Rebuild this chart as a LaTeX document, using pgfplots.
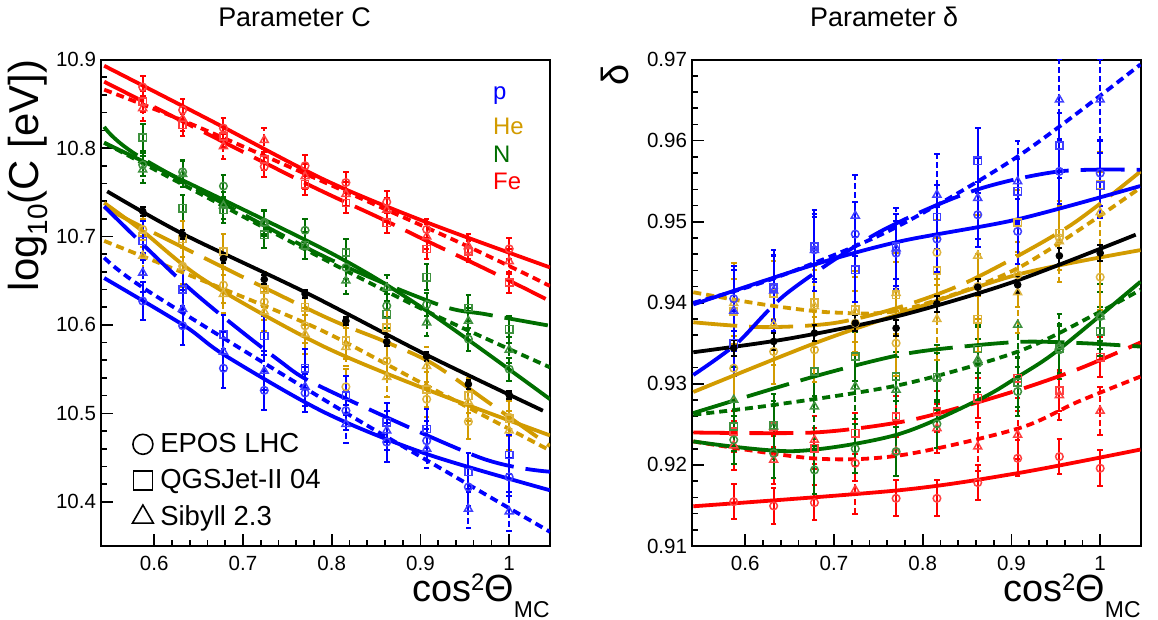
\documentclass[border=0pt]{standalone}
\usepackage{fontspec}
\setmainfont{Liberation Sans}
\usepackage{pgfplots}
\pgfplotsset{compat=1.18}
\definecolor{cp}{RGB}{0,0,255}
\definecolor{che}{RGB}{210,155,0}
\definecolor{cn}{RGB}{0,110,0}
\definecolor{cfe}{RGB}{255,0,0}
\pgfplotsset{
  base/.style={scale only axis, width=224.5bp, height=243.2bp,
    xmin=0.54, xmax=1.046, xtick={0.6,0.7,0.8,0.9,1.0},
    minor x tick num=4, minor y tick num=4, tick align=inside, tick pos=left,
    major tick length=6bp, minor tick length=3bp,
    axis line style={line width=0.9bp},
    every tick/.style={line width=0.8bp, black},
    tick label style={font=\fontsize{10.3}{12}\selectfont},
    /pgf/number format/assume math mode=true,
    x tick label style={yshift=-1.5bp, /pgf/number format/.cd, fixed, precision=1},
    y tick label style={xshift=1bp},
    xlabel={\fontsize{19}{21}\selectfont cos\raisebox{5.5bp}{\fontsize{12}{14}\selectfont 2}Θ\raisebox{-8bp}{\fontsize{11.5}{13}\selectfont MC}},
    xlabel style={at={(axis description cs:1,0)}, anchor=base east, yshift=-27.8bp, inner sep=0pt},
    clip=true},
  errs/.style={error bars/y dir=both, error bars/y explicit,
    error bars/error bar style={line width=1bp, solid},
    error bars/error mark options={rotate=90, mark size=1.4bp, line width=1bp, solid}},
  epos/.style={only marks, mark=o, mark size=1.9bp, color=#1, mark options={solid, line width=0.75bp, draw=#1!75!white}, errs},
  qgs/.style={only marks, mark=square, mark size=1.8bp, color=#1, mark options={solid, line width=0.75bp, draw=#1!75!white}, errs},
  sib/.style={only marks, mark=triangle, mark size=2.3bp, color=#1, mark options={solid, line width=0.75bp, draw=#1!75!white}, errs},
  dat/.style={only marks, mark=*, mark size=1.7bp, color=black, errs},
  fitE/.style={no marks, smooth, line width=1.9bp, color=#1},
  fitQ/.style={no marks, smooth, line width=1.9bp, color=#1, dash pattern=on 22bp off 6bp},
  fitS/.style={no marks, smooth, line width=1.9bp, color=#1, dash pattern=on 4bp off 2.5bp},
  sibbar/.style={error bars/error bar style={line width=1bp, dash pattern=on 3bp off 1.5bp}},
}
\begin{document}
\begin{tikzpicture}
% ---------------- LEFT PANEL ----------------
\begin{axis}[base, at={(50.5bp,37bp)}, anchor=south west,
  ymin=10.35, ymax=10.9, ytick={10.4,10.5,10.6,10.7,10.8,10.9},
  y tick label style={/pgf/number format/.cd, fixed, precision=1},
  ylabel={\fontsize{21}{24}\selectfont log\raisebox{-4.5bp}{\fontsize{14}{16}\selectfont 10}(C [eV])},
  ylabel style={at={(axis description cs:-0.118,1)}, anchor=south east, inner sep=0pt},
  title={Parameter C},
  every axis title/.style={at={(axis description cs:0.431,1.069)}, anchor=base, font=\fontsize{13.5}{15}\selectfont, inner sep=0pt},
  legend style={at={(axis description cs:0.056,0.245)}, anchor=north west, draw=none, fill=none,
    font=\fontsize{13.8}{15}\selectfont, row sep=5bp, column sep=2.5bp, nodes={inner sep=1bp}},
  legend cell align=left]
\addlegendimage{only marks, mark=o, mark size=5bp, black, line width=0.8bp}
\addlegendentry{EPOS LHC}
\addlegendimage{only marks, mark=square, mark size=4.7bp, black, line width=0.8bp}
\addlegendentry{QGSJet-II 04}
\addlegendimage{only marks, mark=triangle, mark size=6bp, black, line width=0.8bp}
\addlegendentry{Sibyll 2.3}
% data: Fe
\addplot[epos=cfe] table[x=x,y=y,y error=e] {
x y e
0.587 10.869 0.012
0.632 10.843 0.012
0.678 10.8225 0.012
0.724 10.779 0.012
0.770 10.780 0.012
0.816 10.761 0.012
0.862 10.739 0.012
0.907 10.708 0.012
0.954 10.685 0.012
1.000 10.686 0.012
};
\addplot[qgs=cfe] table[x=x,y=y,y error=e] {
x y e
0.587 10.8525 0.012
0.632 10.826 0.012
0.678 10.813 0.012
0.724 10.787 0.012
0.770 10.759 0.012
0.816 10.738 0.012
0.862 10.7155 0.012
0.907 10.686 0.012
0.954 10.683 0.012
1.000 10.648 0.012
};
\addplot[sib=cfe, sibbar] table[x=x,y=y,y error=e] {
x y e
0.587 10.845 0.014
0.632 10.833 0.014
0.678 10.802 0.014
0.724 10.809 0.014
0.770 10.768 0.014
0.816 10.748 0.014
0.862 10.730 0.014
0.907 10.700 0.014
0.954 10.689 0.014
1.000 10.672 0.014
};
% data: N
\addplot[epos=cn] table[x=x,y=y,y error=e] {
x y e
0.587 10.781 0.013
0.632 10.773 0.013
0.678 10.757 0.013
0.724 10.716 0.013
0.770 10.707 0.013
0.816 10.665 0.013
0.862 10.6215 0.013
0.907 10.623 0.013
0.954 10.584 0.013
1.000 10.550 0.013
};
\addplot[qgs=cn] table[x=x,y=y,y error=e] {
x y e
0.587 10.812 0.015
0.632 10.732 0.015
0.678 10.730 0.015
0.724 10.702 0.015
0.770 10.690 0.015
0.816 10.682 0.015
0.862 10.612 0.015
0.907 10.654 0.015
0.954 10.619 0.015
1.000 10.595 0.015
};
\addplot[sib=cn, sibbar] table[x=x,y=y,y error=e] {
x y e
0.587 10.7756 0.015
0.632 10.7705 0.015
0.678 10.735 0.015
0.724 10.715 0.015
0.770 10.689 0.015
0.816 10.650 0.015
0.862 10.642 0.015
0.907 10.6027 0.015
0.954 10.6045 0.015
1.000 10.5718 0.015
};
% data: He
\addplot[epos=che] table[x=x,y=y,y error=e] {
x y e
0.587 10.708 0.02
0.632 10.6665 0.02
0.678 10.645 0.02
0.724 10.626 0.02
0.770 10.599 0.02
0.816 10.530 0.02
0.862 10.5594 0.02
0.907 10.516 0.02
0.954 10.4906 0.02
1.000 10.4956 0.02
};
\addplot[qgs=che] table[x=x,y=y,y error=e] {
x y e
0.587 10.700 0.02
0.632 10.697 0.02
0.678 10.683 0.02
0.724 10.640 0.02
0.770 10.620 0.02
0.816 10.582 0.02
0.862 10.597 0.02
0.907 10.527 0.02
0.954 10.520 0.02
1.000 10.494 0.02
};
\addplot[sib=che, sibbar] table[x=x,y=y,y error=e] {
x y e
0.587 10.678 0.022
0.632 10.665 0.022
0.678 10.635 0.022
0.724 10.615 0.022
0.770 10.5895 0.022
0.816 10.575 0.022
0.862 10.541 0.022
0.907 10.5534 0.022
0.954 10.513 0.022
1.000 10.4805 0.022
};
% data: p
\addplot[epos=cp] table[x=x,y=y,y error=e] {
x y e
0.587 10.627 0.022
0.632 10.599 0.022
0.678 10.551 0.022
0.724 10.526 0.022
0.770 10.523 0.022
0.816 10.503 0.022
0.862 10.4675 0.022
0.907 10.469 0.022
0.954 10.4167 0.022
1.000 10.428 0.022
};
\addplot[qgs=cp] table[x=x,y=y,y error=e] {
x y e
0.587 10.695 0.022
0.632 10.640 0.022
0.678 10.5895 0.022
0.724 10.5876 0.022
0.770 10.551 0.022
0.816 10.520 0.022
0.862 10.490 0.022
0.907 10.4824 0.022
0.954 10.4336 0.022
1.000 10.453 0.022
};
\addplot[sib=cp, sibbar] table[x=x,y=y,y error=e] {
x y e
0.587 10.659 0.022
0.632 10.618 0.022
0.678 10.5696 0.022
0.724 10.548 0.022
0.770 10.530 0.022
0.816 10.488 0.022
0.862 10.4805 0.022
0.907 10.460 0.022
0.954 10.392 0.022
1.000 10.389 0.022
};
% fits
\addplot[fitE=cfe] coordinates {(0.5436,10.893) (0.66,10.833) (0.792,10.764) (0.907,10.716) (1.046,10.665)};
\addplot[fitQ=cfe] coordinates {(0.5436,10.875) (0.65,10.821) (0.777,10.757) (0.854,10.721) (0.903,10.697) (0.978,10.661) (1.046,10.627)};
\addplot[fitS=cfe] coordinates {(0.5436,10.866) (0.656,10.821) (0.929,10.700) (1.046,10.644)};
\addplot[fitE=cn] coordinates {(0.5436,10.806) (0.792,10.685) (0.907,10.616) (1.046,10.516)};
\addplot[fitQ=cn] coordinates {(0.5436,10.824) (0.587,10.788) (0.786,10.680) (0.92,10.623) (0.974,10.612) (1.046,10.599)};
\addplot[fitS=cn] coordinates {(0.5436,10.806) (0.786,10.677) (0.91,10.614) (1.046,10.552)};
\addplot[fitE=che] coordinates {(0.5436,10.738) (0.587,10.706) (0.656,10.651) (0.786,10.578) (0.907,10.527) (1.046,10.475)};
\addplot[fitQ=che] coordinates {(0.5436,10.733) (0.6076,10.700) (0.786,10.612) (0.858,10.582) (0.914,10.556) (0.98,10.51) (1.046,10.463)};
\addplot[fitS=che] coordinates {(0.5436,10.695) (0.65,10.652) (0.786,10.595) (0.9,10.535) (1.046,10.458)};
\addplot[fitE=cp] coordinates {(0.5436,10.653) (0.634,10.599) (0.679,10.566) (0.792,10.501) (0.907,10.454) (1.046,10.413)};
\addplot[fitQ=cp] coordinates {(0.5436,10.734) (0.641,10.640) (0.739,10.561) (0.79,10.529) (0.967,10.45) (1.046,10.434)};
\addplot[fitS=cp] coordinates {(0.5436,10.676) (0.592,10.639) (0.792,10.515) (0.907,10.447) (1.046,10.366)};
% data
\addplot[dat] table[x=x,y=y,y error=e] {
x y e
0.587 10.7285 0.005
0.632 10.702 0.005
0.678 10.675 0.005
0.724 10.6515 0.005
0.770 10.635 0.005
0.816 10.6045 0.005
0.862 10.581 0.005
0.907 10.5644 0.005
0.954 10.533 0.005
1.000 10.5208 0.005
};
\addplot[fitE=black] coordinates {(0.547,10.751) (0.632,10.703) (0.77,10.637) (0.907,10.566) (1.038,10.503)};
\node[anchor=base west, text=cp, font=\fontsize{12}{14}\selectfont, inner sep=0pt] at (axis cs:0.9815,10.8544) {p};
\node[anchor=base west, text=che, font=\fontsize{12}{14}\selectfont, inner sep=0pt] at (axis cs:0.9815,10.815) {He};
\node[anchor=base west, text=cn, font=\fontsize{12}{14}\selectfont, inner sep=0pt] at (axis cs:0.9815,10.7834) {N};
\node[anchor=base west, text=cfe, font=\fontsize{12}{14}\selectfont, inner sep=0pt] at (axis cs:0.9815,10.7534) {Fe};
\end{axis}
% ---------------- RIGHT PANEL ----------------
\begin{axis}[base, at={(346bp,37bp)}, anchor=south west,
  ymin=0.91, ymax=0.97, ytick={0.91,0.92,0.93,0.94,0.95,0.96,0.97},
  y tick label style={/pgf/number format/.cd, fixed, fixed zerofill, precision=2},
  ylabel={\fontsize{19}{21}\selectfont δ},
  ylabel style={at={(axis description cs:-0.139,0.99)}, anchor=south east, inner sep=0pt},
  title={Parameter δ},
  every axis title/.style={at={(axis description cs:0.428,1.069)}, anchor=base, font=\fontsize{13.5}{15}\selectfont, inner sep=0pt}]
% Fe
\addplot[epos=cfe] table[x=x,y=y,y error=e] {
x y e
0.587 0.91547 0.0022
0.632 0.91494 0.0022
0.678 0.91535 0.0022
0.724 0.92021 0.0022
0.770 0.91588 0.0022
0.816 0.91588 0.0022
0.862 0.91782 0.0022
0.907 0.92082 0.0022
0.954 0.92103 0.0022
1.000 0.91959 0.0022
};
\addplot[qgs=cfe] table[x=x,y=y,y error=e] {
x y e
0.587 0.92412 0.0025
0.632 0.92473 0.0025
0.678 0.92206 0.0025
0.724 0.92391 0.0025
0.770 0.92597 0.0025
0.816 0.92658 0.0025
0.862 0.92823 0.0025
0.907 0.93070 0.0025
0.954 0.92918 0.0025
1.000 0.93329 0.0025
};
\addplot[sib=cfe, sibbar] table[x=x,y=y,y error=e] {
x y e
0.587 0.9224 0.003
0.632 0.92062 0.003
0.678 0.92309 0.003
0.724 0.91691 0.003
0.770 0.92165 0.003
0.816 0.92453 0.003
0.862 0.92226 0.003
0.907 0.92371 0.003
0.954 0.92860 0.003
1.000 0.92667 0.003
};
% N
\addplot[epos=cn] table[x=x,y=y,y error=e] {
x y e
0.587 0.92309 0.003
0.632 0.92144 0.003
0.678 0.91938 0.003
0.724 0.9220 0.003
0.770 0.92165 0.003
0.816 0.92506 0.003
0.862 0.93255 0.003
0.907 0.92906 0.003
0.954 0.93420 0.003
1.000 0.93831 0.003
};
\addplot[qgs=cn] table[x=x,y=y,y error=e] {
x y e
0.587 0.92473 0.003
0.632 0.92494 0.003
0.678 0.93153 0.003
0.724 0.93338 0.003
0.770 0.93091 0.003
0.816 0.93082 0.003
0.862 0.9343 0.003
0.907 0.93017 0.003
0.954 0.93440 0.003
1.000 0.93646 0.003
};
\addplot[sib=cn, sibbar] table[x=x,y=y,y error=e] {
x y e
0.587 0.92803 0.004
0.632 0.92473 0.004
0.678 0.92720 0.004
0.724 0.92967 0.004
0.770 0.92926 0.004
0.816 0.93082 0.004
0.862 0.93296 0.004
0.907 0.93728 0.004
0.954 0.93461 0.004
1.000 0.9383 0.004
};
% He
\addplot[epos=che] table[x=x,y=y,y error=e] {
x y e
0.587 0.93193 0.004
0.632 0.93399 0.004
0.678 0.93420 0.004
0.724 0.9375 0.004
0.770 0.93502 0.004
0.816 0.94621 0.004
0.862 0.9420 0.004
0.907 0.94346 0.004
0.954 0.9480 0.004
1.000 0.94317 0.004
};
\addplot[qgs=che] table[x=x,y=y,y error=e] {
x y e
0.587 0.93893 0.004
0.632 0.94119 0.004
0.678 0.9400 0.004
0.724 0.93914 0.004
0.770 0.9410 0.004
0.816 0.94399 0.004
0.862 0.93798 0.004
0.907 0.94992 0.004
0.954 0.94860 0.004
1.000 0.95457 0.004
};
\addplot[sib=che, sibbar] table[x=x,y=y,y error=e] {
x y e
0.587 0.93996 0.005
0.632 0.9373 0.005
0.678 0.93955 0.005
0.724 0.9389 0.005
0.770 0.94119 0.005
0.816 0.93798 0.005
0.862 0.94580 0.005
0.907 0.94128 0.005
0.954 0.94757 0.005
1.000 0.95115 0.005
};
% p
\addplot[epos=cp] table[x=x,y=y,y error=e] {
x y e
0.587 0.9405 0.004
0.632 0.94181 0.004
0.678 0.94654 0.004
0.724 0.94848 0.004
0.770 0.94613 0.004
0.816 0.94786 0.004
0.862 0.95086 0.004
0.907 0.94881 0.004
0.954 0.95621 0.004
1.000 0.9560 0.004
};
\addplot[qgs=cp] table[x=x,y=y,y error=e] {
x y e
0.587 0.93502 0.004
0.632 0.94193 0.004
0.678 0.94695 0.004
0.724 0.94407 0.004
0.770 0.94695 0.004
0.816 0.95058 0.004
0.862 0.95753 0.004
0.907 0.95375 0.004
0.954 0.95942 0.004
1.000 0.95444 0.004
};
\addplot[sib=cp, sibbar] table[x=x,y=y,y error=e] {
x y e
0.587 0.9390 0.005
0.632 0.9415 0.005
0.678 0.9465 0.005
0.724 0.95074 0.005
0.770 0.9467 0.005
0.816 0.95333 0.005
0.862 0.95292 0.005
0.907 0.95498 0.005
0.954 0.96506 0.005
1.000 0.96506 0.005
};
% fits
\addplot[fitE=cfe] coordinates {(0.5415,0.9149) (0.7755,0.9169) (0.9077,0.9190) (1.0454,0.9219)};
\addplot[fitQ=cfe] coordinates {(0.5415,0.9240) (0.6774,0.9240) (0.7755,0.9253) (0.8452,0.9272) (0.915,0.9295) (0.977,0.9319) (1.0454,0.9351)};
\addplot[fitS=cfe] coordinates {(0.5415,0.9229) (0.6774,0.9208) (0.7755,0.9212) (0.9077,0.9245) (0.975,0.9278) (1.0454,0.9309)};
\addplot[fitE=cn] coordinates {(0.5415,0.9229) (0.6547,0.9217) (0.77,0.9237) (0.8624,0.9280) (0.9077,0.9309) (0.953,0.9342) (1.0454,0.9426)};
\addplot[fitQ=cn] coordinates {(0.5415,0.9264) (0.6774,0.9309) (0.7755,0.9336) (0.8452,0.9346) (0.915,0.9352) (0.985,0.9350) (1.0454,0.9346)};
\addplot[fitS=cn] coordinates {(0.5415,0.9262) (0.632,0.9274) (0.7755,0.9299) (0.9077,0.9340) (0.9965,0.9387) (1.0454,0.9416)};
\addplot[fitE=che] coordinates {(0.5415,0.9290) (0.678,0.9350) (0.7755,0.9387) (0.9077,0.9435) (1.0454,0.9465)};
\addplot[fitQ=che] coordinates {(0.5415,0.9376) (0.62,0.9370) (0.70,0.9375) (0.775,0.9395) (0.8548,0.9428) (0.9643,0.9494) (1.0454,0.9562)};
\addplot[fitS=che] coordinates {(0.5415,0.9413) (0.62,0.9398) (0.70,0.9388) (0.78,0.9392) (0.9077,0.9443) (1.0454,0.9542)};
\addplot[fitE=cp] coordinates {(0.5415,0.9398) (0.6774,0.9447) (0.7755,0.9476) (0.907,0.9503) (1.045,0.9544)};
\addplot[fitQ=cp] coordinates {(0.5415,0.9311) (0.5906,0.9350) (0.6472,0.9412) (0.749,0.9486) (0.8567,0.9538) (0.953,0.9562) (1.045,0.9564)};
\addplot[fitS=cp] coordinates {(0.5415,0.9400) (0.632,0.9430) (0.7642,0.9490) (0.9077,0.9581) (1.0454,0.9694)};
% data
\addplot[dat] table[x=x,y=y,y error=e] {
x y e
0.587 0.93440 0.001
0.632 0.93523 0.001
0.678 0.93626 0.001
0.724 0.93749 0.001
0.770 0.93687 0.001
0.816 0.93988 0.001
0.862 0.94193 0.001
0.907 0.94222 0.001
0.954 0.94580 0.001
1.000 0.94613 0.001
};
\addplot[fitE=black] coordinates {(0.5415,0.9339) (0.65,0.9356) (0.77,0.9383) (0.9,0.9425) (1.04,0.9484)};
\end{axis}
\pgfresetboundingbox
\useasboundingbox (0,0) rectangle (579bp,310bp);
\end{tikzpicture}
\end{document}
